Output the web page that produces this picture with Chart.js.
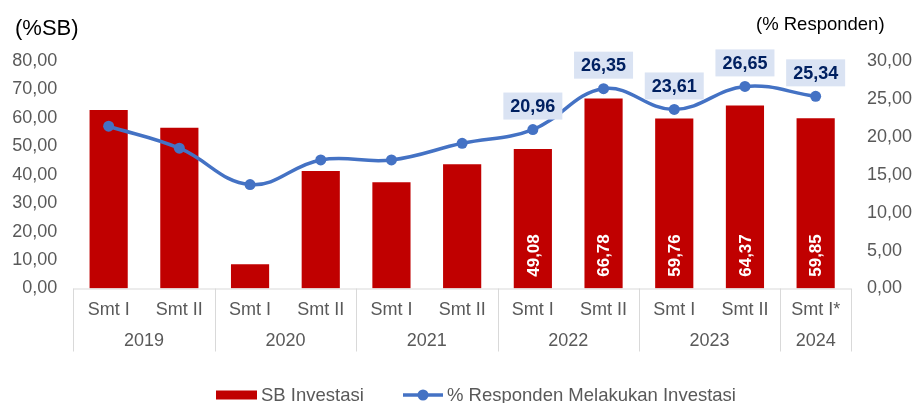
<!DOCTYPE html>
<html>
<head>
<meta charset="utf-8">
<script src="https://cdn.jsdelivr.net/npm/chart.js@4"></script>
<style>
html, body { margin: 0; padding: 0; background: #fff; }
#wrap { width: 916px; height: 403px; }
</style>
</head>
<body>
<div id="wrap"><canvas id="chart" width="916" height="403"></canvas></div>
<script>
// data
const semesters = ['Smt I', 'Smt II', 'Smt I', 'Smt II', 'Smt I', 'Smt II', 'Smt I', 'Smt II', 'Smt I', 'Smt II', 'Smt I*'];
const years = ['2019', '2019', '2020', '2020', '2021', '2021', '2022', '2022', '2023', '2023', '2024'];
const sbInvestasi = [62.8, 56.5, 8.5, 41.3, 37.4, 43.7, 49.08, 66.78, 59.76, 64.37, 59.85];
const respondenInvestasi = [21.4, 18.5, 13.7, 16.95, 16.95, 19.15, 20.96, 26.35, 23.61, 26.65, 25.34];
const labelFrom = 6; // values are printed from 2022 on

const FONT = '"Liberation Sans", Arial, sans-serif';
const GREY = '#595959';
const fmt = v => Number(v).toFixed(2).replace('.', ',');

// axis frame, year row, titles, value labels, legend
const decor = {
  id: 'decor',
  afterDraw(chart) {
    const { ctx, chartArea: a, scales: { x } } = chart;
    const half = (x.getPixelForValue(1) - x.getPixelForValue(0)) / 2;
    ctx.save();

    // bottom axis and group separators
    ctx.strokeStyle = '#d9d9d9';
    ctx.lineWidth = 1;
    ctx.beginPath();
    ctx.moveTo(a.left, a.bottom + 0.5);
    ctx.lineTo(a.right, a.bottom + 0.5);
    const bounds = [];
    years.forEach((yr, i) => { if (i === 0 || yr !== years[i - 1]) bounds.push(i); });
    bounds.push(years.length);
    bounds.forEach(i => {
      const px = Math.round(x.getPixelForValue(i) - half) + 0.5;
      ctx.moveTo(px, a.bottom);
      ctx.lineTo(px, a.bottom + 63);
    });
    ctx.stroke();

    // year labels
    ctx.fillStyle = GREY;
    ctx.font = '18px ' + FONT;
    ctx.textAlign = 'center';
    ctx.textBaseline = 'middle';
    for (let k = 0; k < bounds.length - 1; k++) {
      const x0 = x.getPixelForValue(bounds[k]) - half;
      const x1 = x.getPixelForValue(bounds[k + 1]) - half;
      ctx.fillText(years[bounds[k]], (x0 + x1) / 2, a.bottom + 53);
    }

    // axis titles
    ctx.fillStyle = '#000';
    ctx.textAlign = 'left';
    ctx.font = '22px ' + FONT;
    ctx.fillText('(%SB)', 15, 29);
    ctx.font = '18.5px ' + FONT;
    ctx.fillText('(% Responden)', 756, 25);

    // bar labels
    const bars = chart.getDatasetMeta(1).data;
    ctx.font = 'bold 17px ' + FONT;
    ctx.fillStyle = '#fff';
    ctx.textAlign = 'center';
    for (let i = labelFrom; i < bars.length; i++) {
      const b = bars[i];
      ctx.save();
      ctx.translate(b.x, b.base - 33);
      ctx.rotate(-Math.PI / 2);
      ctx.fillText(fmt(sbInvestasi[i]), 0, 1);
      ctx.restore();
    }

    // line labels
    const pts = chart.getDatasetMeta(0).data;
    ctx.font = 'bold 18px ' + FONT;
    for (let i = labelFrom; i < pts.length; i++) {
      const p = pts[i];
      const cy = p.y - 23.5;
      ctx.fillStyle = '#dae3f3';
      ctx.fillRect(p.x - 29.5, cy - 13.5, 59, 27);
      ctx.fillStyle = '#002060';
      ctx.fillText(fmt(respondenInvestasi[i]), p.x, cy + 1);
    }

    // legend
    const ly = 395;
    ctx.fillStyle = '#c00000';
    ctx.fillRect(216, ly - 4.5, 41, 9);
    ctx.fillStyle = GREY;
    ctx.font = '18.5px ' + FONT;
    ctx.textAlign = 'left';
    ctx.fillText(chart.data.datasets[1].label, 261, ly + 1);
    ctx.strokeStyle = '#4472c4';
    ctx.lineWidth = 3.5;
    ctx.beginPath();
    ctx.moveTo(403, ly);
    ctx.lineTo(443, ly);
    ctx.stroke();
    ctx.fillStyle = '#4472c4';
    ctx.beginPath();
    ctx.arc(423, ly, 5.5, 0, Math.PI * 2);
    ctx.fill();
    ctx.fillStyle = GREY;
    ctx.fillText(chart.data.datasets[0].label, 447, ly + 1);

    ctx.restore();
  }
};

new Chart(document.getElementById('chart'), {
  data: {
    labels: semesters,
    datasets: [
      {
        type: 'line',
        label: '% Responden Melakukan Investasi',
        data: respondenInvestasi,
        yAxisID: 'y1',
        borderColor: '#4472c4',
        backgroundColor: '#4472c4',
        borderWidth: 3.5,
        pointRadius: 5.5,
        pointBorderWidth: 0,
        tension: 0.4,
        order: 0
      },
      {
        type: 'bar',
        label: 'SB Investasi',
        data: sbInvestasi,
        yAxisID: 'y',
        backgroundColor: '#c00000',
        barPercentage: 0.54,
        categoryPercentage: 1,
        order: 1
      }
    ]
  },
  options: {
    responsive: false,
    animation: false,
    layout: { padding: { top: 61, bottom: 50.5, left: 0, right: 0 } },
    plugins: { legend: { display: false }, tooltip: { enabled: false } },
    scales: {
      x: {
        grid: { display: false },
        border: { display: false },
        ticks: { color: GREY, font: { family: FONT, size: 18 }, padding: 3, maxRotation: 0 },
        afterFit(s) { s.height = 64; }
      },
      y: {
        position: 'left',
        min: 0, max: 80,
        grid: { display: false, drawTicks: false },
        border: { display: false },
        ticks: { stepSize: 10, color: GREY, font: { family: FONT, size: 18 }, padding: 16, callback: fmt },
        afterFit(s) { s.width = 73.3; }
      },
      y1: {
        position: 'right',
        min: 0, max: 30,
        grid: { display: false, drawTicks: false },
        border: { display: false },
        ticks: { stepSize: 5, color: GREY, font: { family: FONT, size: 18 }, padding: 16, callback: fmt },
        afterFit(s) { s.width = 65; }
      }
    }
  },
  plugins: [decor]
});
</script>
</body>
</html>
